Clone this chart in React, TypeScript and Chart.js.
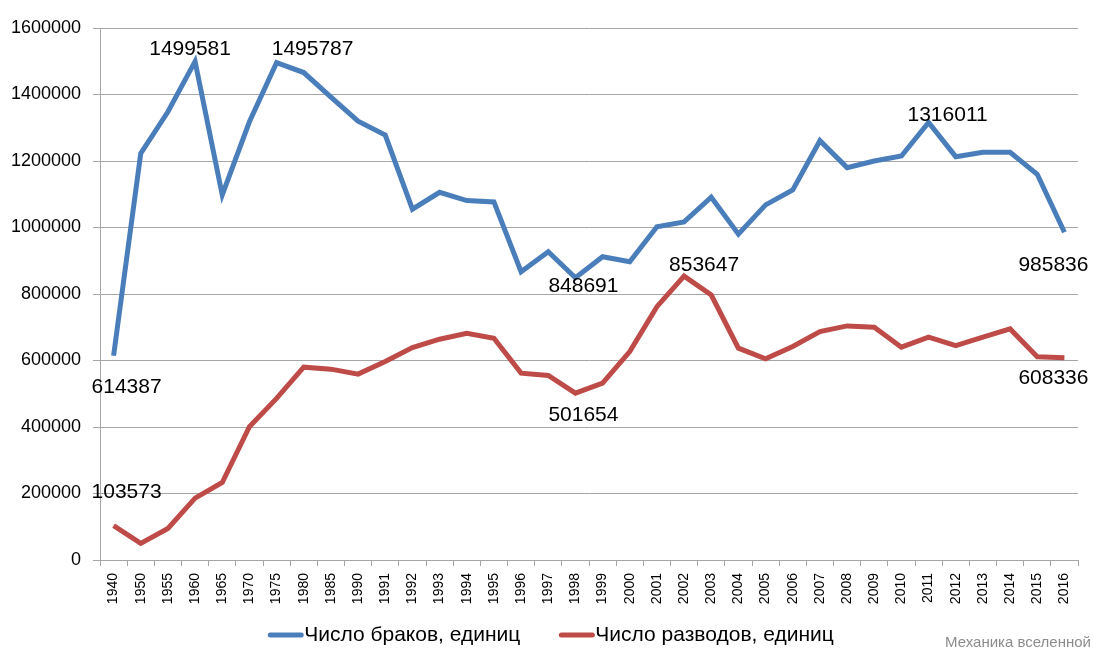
import { useEffect, useRef } from 'react';
import { Chart, registerables } from 'chart.js';

Chart.register(...registerables);

const years = [
  '1940', '1950', '1955', '1960', '1965', '1970', '1975', '1980', '1985',
  '1990', '1991', '1992', '1993', '1994', '1995', '1996', '1997', '1998', '1999',
  '2000', '2001', '2002', '2003', '2004', '2005', '2006', '2007', '2008', '2009',
  '2010', '2011', '2012', '2013', '2014', '2015', '2016',
];

const marriages = [
  614387, 1223000, 1348000, 1499581, 1098000, 1318000, 1495787, 1466000, 1392000,
  1320000, 1278000, 1055000, 1106000, 1081000, 1077000, 867000, 927000, 848691, 912000,
  897000, 1002000, 1017000, 1091000, 980000, 1068000, 1113000, 1261000, 1180000, 1200000,
  1215000, 1316011, 1213000, 1226000, 1226000, 1160000, 985836,
];

const divorces = [
  103573, 50000, 95000, 186000, 233000, 401000, 486000, 580000, 574000,
  559000, 597000, 639000, 664000, 682000, 667000, 562000, 555000, 501654, 532000,
  627000, 762000, 853647, 797000, 637000, 605000, 642000, 687000, 704000, 700000,
  640000, 670000, 645000, 670000, 695000, 611000, 608336,
];

const seriesNames = ['Число браков, единиц', 'Число разводов, единиц'];
const watermark = 'Механика вселенной';

// which points get a value label, and where the label sits relative to the point
const labelSpots = [
  { ds: 0, i: 0, dx: 13, dy: 31 },
  { ds: 0, i: 3, dx: -5, dy: -12 },
  { ds: 0, i: 6, dx: 36, dy: -13 },
  { ds: 0, i: 17, dx: 8, dy: 8 },
  { ds: 0, i: 30, dx: 19, dy: -7 },
  { ds: 0, i: 35, dx: -11, dy: 33 },
  { ds: 1, i: 0, dx: 13, dy: -33 },
  { ds: 1, i: 17, dx: 8, dy: 22 },
  { ds: 1, i: 21, dx: 20, dy: -11 },
  { ds: 1, i: 35, dx: -11, dy: 20 },
];

const BLUE = '#4a7ebb';
const RED = '#be4b48';
const GRID = '#a6a6a6';
const FONT = "'Liberation Sans', Arial, sans-serif";

const valueLabels = {
  id: 'valueLabels',
  afterDatasetsDraw(chart: Chart) {
    const ctx = chart.ctx;
    ctx.save();
    ctx.font = `21px ${FONT}`;
    ctx.fillStyle = '#000';
    ctx.textAlign = 'center';
    ctx.textBaseline = 'middle';
    labelSpots.forEach((s) => {
      const pt = chart.getDatasetMeta(s.ds).data[s.i];
      const v = chart.data.datasets[s.ds].data[s.i] as number;
      ctx.fillText(String(v), pt.x + s.dx, pt.y + s.dy);
    });
    ctx.restore();
  },
};

// excel-style legend (line swatch right against the text) + signature
const footer = {
  id: 'footer',
  afterDraw(chart: Chart) {
    const ctx = chart.ctx;
    const y = 635;
    ctx.save();
    ctx.font = `21px ${FONT}`;
    ctx.textBaseline = 'middle';
    ctx.textAlign = 'left';
    const swatch = 35;
    const gap = 39;
    const items = chart.data.datasets.map((d) => ({
      text: d.label as string,
      color: d.borderColor as string,
      w: swatch + 1 + ctx.measureText(d.label as string).width,
    }));
    const total = items.reduce((a, it) => a + it.w, 0) + gap * (items.length - 1);
    let x = chart.width / 2 - total / 2;
    items.forEach((it) => {
      ctx.strokeStyle = it.color;
      ctx.lineWidth = 5;
      ctx.lineCap = 'round';
      ctx.beginPath();
      ctx.moveTo(x + 2, y);
      ctx.lineTo(x + swatch - 2, y);
      ctx.stroke();
      ctx.fillStyle = '#000';
      ctx.fillText(it.text, x + swatch + 1, y);
      x += it.w + gap;
    });

    ctx.font = `15px ${FONT}`;
    ctx.fillStyle = '#8c8c8c';
    ctx.textAlign = 'right';
    ctx.fillText(watermark, chart.width - 11, 643);
    ctx.restore();
  },
};

export default function App() {
  const canvasRef = useRef<HTMLCanvasElement>(null);
  const chartRef = useRef<Chart | null>(null);

  useEffect(() => {
    document.body.style.margin = '0';
    if (!canvasRef.current) return;
    if (chartRef.current) chartRef.current.destroy();

    chartRef.current = new Chart(canvasRef.current, {
      type: 'line',
      data: {
        labels: years,
        datasets: [
          {
            label: seriesNames[0],
            data: marriages,
            borderColor: BLUE,
            backgroundColor: BLUE,
            borderWidth: 5,
            pointRadius: 0,
            tension: 0,
          },
          {
            label: seriesNames[1],
            data: divorces,
            borderColor: RED,
            backgroundColor: RED,
            borderWidth: 5,
            pointRadius: 0,
            tension: 0,
          },
        ],
      },
      options: {
        responsive: true,
        maintainAspectRatio: false,
        animation: false,
        layout: { padding: { top: 28, right: 24, left: 0, bottom: 42 } },
        plugins: {
          tooltip: { enabled: false },
          legend: { display: false },
        },
        scales: {
          x: {
            offset: true,
            grid: {
              offset: true,
              drawOnChartArea: false,
              color: GRID,
              tickLength: 6,
            },
            border: { color: GRID },
            ticks: {
              autoSkip: false,
              minRotation: 90,
              maxRotation: 90,
              padding: 7,
              color: '#000',
              font: { family: FONT, size: 14 },
            },
            afterFit: (scale) => {
              scale.height = 58;
            },
          },
          y: {
            min: 0,
            max: 1600000,
            ticks: {
              stepSize: 200000,
              padding: 12,
              color: '#000',
              font: { family: FONT, size: 18 },
              callback: (v) => String(v),
            },
            grid: { color: GRID, tickLength: 7 },
            border: { color: GRID },
            afterFit: (scale) => {
              scale.width = 100;
            },
          },
        },
      },
      plugins: [valueLabels, footer],
    });

    return () => {
      chartRef.current?.destroy();
      chartRef.current = null;
    };
  }, []);

  return (
    <div style={{ width: 1102, height: 660, position: 'relative' }}>
      <canvas ref={canvasRef} />
    </div>
  );
}
